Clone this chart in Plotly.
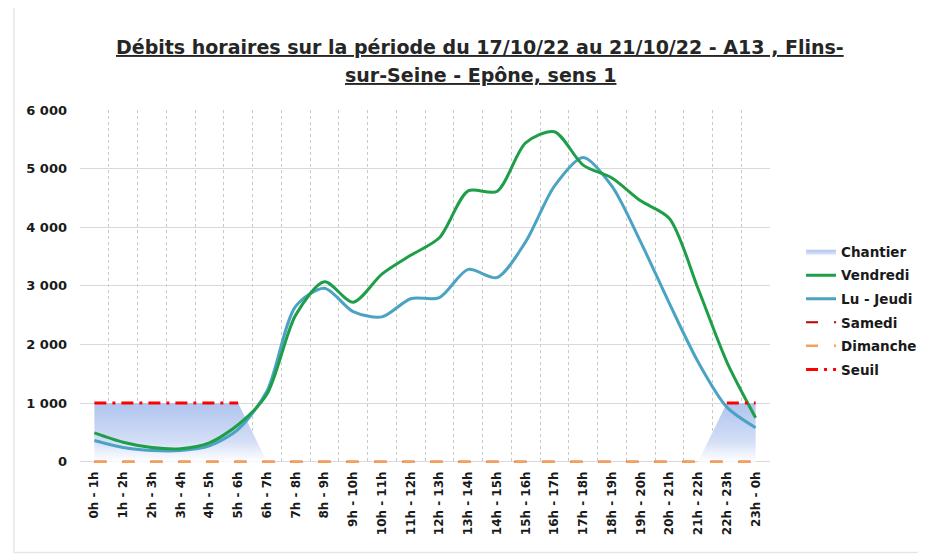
import plotly.graph_objects as go

hours = [f"{i}h - {(i + 1) % 24}h" for i in range(24)]

vendredi = [490, 330, 240, 220, 320, 630, 1150, 2500, 3070, 2720, 3200, 3520,
            3820, 4620, 4610, 5440, 5630, 5060, 4840, 4450, 4150, 2950, 1700, 750]
lu_jeudi = [360, 240, 190, 190, 270, 550, 1200, 2650, 2960, 2560, 2470, 2780,
            2800, 3280, 3140, 3750, 4700, 5190, 4700, 3750, 2700, 1700, 930, 580]
samedi = [0] * 24
dimanche = [0] * 24
chantier = [1000] * 6 + [0] * 16 + [1000] * 2
seuil = [1000] * 6 + [None] * 16 + [1000] * 2

FONT = "DejaVu Sans, Liberation Sans, sans-serif"

fig = go.Figure()

fig.add_trace(go.Scatter(
    x=hours, y=chantier, name="Chantier", mode="lines",
    line=dict(width=0, color="#c5d3f2"), fill="tozeroy",
    fillgradient=dict(type="vertical", start=0, stop=1000,
                      colorscale=[[0, "rgba(255,255,255,1)"], [0.35, "#d3def6"],
                                  [1, "#b0c4ee"]]),
    legendrank=1, legendgroup="a", hoverinfo="skip"))
fig.add_trace(go.Scatter(
    x=hours, y=lu_jeudi, name="Lu - Jeudi", mode="lines",
    line=dict(width=3, color="#4ba3c3", shape="spline", smoothing=0.8),
    legendrank=3, legendgroup="c"))
fig.add_trace(go.Scatter(
    x=hours, y=vendredi, name="Vendredi", mode="lines",
    line=dict(width=3, color="#1e9e48", shape="spline", smoothing=0.8),
    legendrank=2, legendgroup="b"))
fig.add_trace(go.Scatter(
    x=hours, y=samedi, name="Samedi", mode="lines",
    line=dict(width=2, color="#c00000", dash="12px,16px"),
    legendrank=4, legendgroup="d"))
fig.add_trace(go.Scatter(
    x=hours, y=dimanche, name="Dimanche", mode="lines",
    line=dict(width=2.5, color="#f2a05a", dash="12px,16px"),
    legendrank=5, legendgroup="e"))
fig.add_trace(go.Scatter(
    x=hours, y=seuil, name="Seuil", mode="lines",
    line=dict(width=3, color="#ff0000", dash="12px,6px,3px,6px"),
    legendrank=6, legendgroup="f", connectgaps=False))

fig.add_annotation(
    text="<u>Débits horaires sur la période du 17/10/22 au 21/10/22 - A13 , Flins-</u>",
    xref="paper", yref="paper", x=0.58, y=1.179, showarrow=False,
    font=dict(family=FONT, size=19, color="#262626", weight="bold"),
    xanchor="center", yanchor="middle")
fig.add_annotation(
    text="<u>sur-Seine - Epône, sens 1</u>",
    xref="paper", yref="paper", x=0.58, y=1.099, showarrow=False,
    font=dict(family=FONT, size=19, color="#262626", weight="bold"),
    xanchor="center", yanchor="middle")

fig.add_shape(type="rect", xref="paper", yref="paper",
              x0=-0.0957, x1=1.25, y0=-0.25, y1=1.298,
              line=dict(color="#e6e6e6", width=1.5), layer="below")

fig.update_layout(
    width=918, height=546,
    margin=dict(l=72, r=156, t=102, b=89.7, autoexpand=False),
    paper_bgcolor="white", plot_bgcolor="white",
    separators=", ",
    font=dict(family=FONT, color="#1a1a1a"),
    showlegend=True,
    legend=dict(x=1.045, y=0.643, xanchor="left", yanchor="top",
                traceorder="grouped", tracegroupgap=3,
                font=dict(family=FONT, size=13.5, color="#1a1a1a", weight="bold"),
                itemwidth=30, bgcolor="rgba(0,0,0,0)"),
)

fig.update_xaxes(
    type="category", range=[-0.5, 23.5], tickson="boundaries",
    showgrid=True, gridcolor="#c8c8c8", griddash="3px,3px", gridwidth=1,
    showline=False, ticks="", tickangle=-90,
    tickfont=dict(family=FONT, size=12, color="#1a1a1a", weight="bold"),
    ticklabelstandoff=4)
fig.update_yaxes(
    range=[-40, 6000], tickvals=[0, 1000, 2000, 3000, 4000, 5000, 6000],
    tickformat=",d",
    showgrid=True, gridcolor="#d9d9d9", zeroline=False, showline=False,
    tickfont=dict(family=FONT, size=13, color="#1a1a1a", weight="bold"),
    ticklabelstandoff=12)

fig.write_html("out.html")
